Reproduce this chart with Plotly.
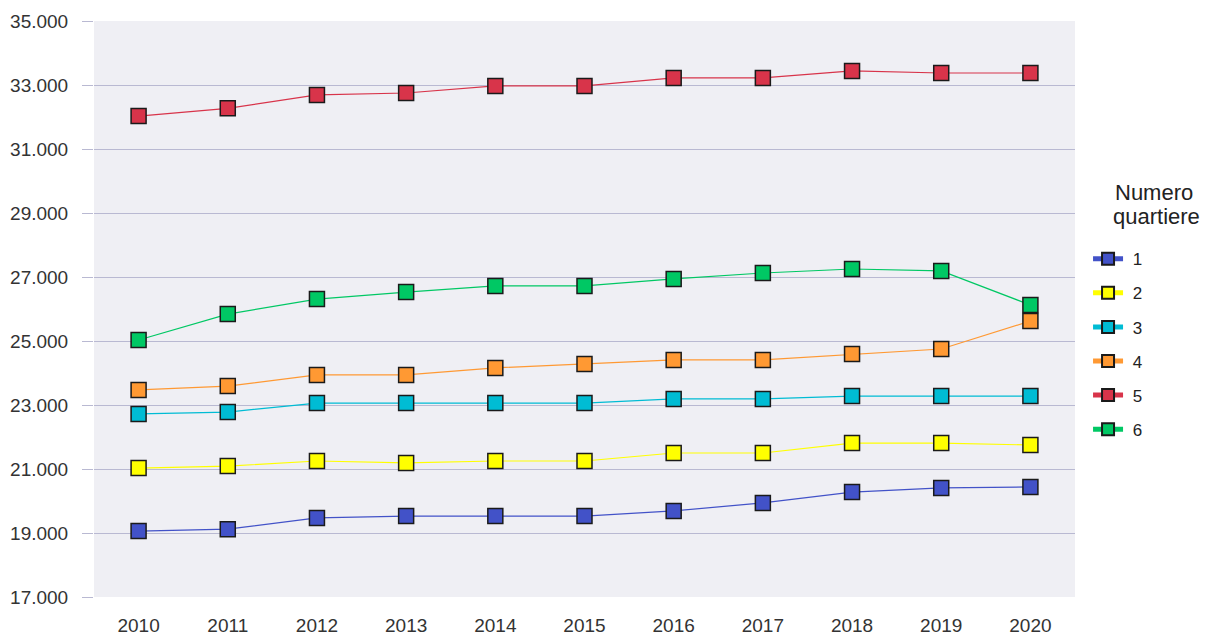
import plotly.graph_objects as go

years = ["2010", "2011", "2012", "2013", "2014", "2015", "2016", "2017", "2018", "2019", "2020"]
q1 = [19060, 19120, 19470, 19530, 19530, 19530, 19690, 19940, 20280, 20410, 20440]
q2 = [21030, 21090, 21250, 21190, 21250, 21250, 21500, 21500, 21810, 21810, 21750]
q3 = [22720, 22780, 23060, 23060, 23060, 23060, 23190, 23190, 23280, 23280, 23280]
q4 = [23470, 23590, 23940, 23940, 24160, 24280, 24410, 24410, 24590, 24750, 25625]
q5 = [32030, 32270, 32690, 32750, 32970, 32970, 33220, 33220, 33440, 33375, 33375]
q6 = [25030, 25840, 26310, 26530, 26720, 26720, 26940, 27125, 27250, 27190, 26125]
names = ["1", "2", "3", "4", "5", "6"]
colors = ["#4252c8", "#ffff00", "#00bcd4", "#ff9933", "#d8344a", "#00c864"]
legend_title = ["Numero", "quartiere"]

fig = go.Figure()
for name, vals, col in zip(names, [q1, q2, q3, q4, q5, q6], colors):
    fig.add_trace(go.Scatter(
        x=years, y=vals, name="\u00a0" + name, legendgroup=name, mode="lines+markers",
        line=dict(color=col, width=1.2),
        marker=dict(symbol="square", size=15, color=col, line=dict(color="#1a1a1a", width=1.5)),
    ))

grid = "#b9b9d2"
# page body has an 8px default margin; margins compensate so the plot area sits at 94..1075 x 21..597
fig.update_layout(
    width=1210, height=636,
    margin=dict(l=86, r=143, t=13, b=47, autoexpand=False),
    paper_bgcolor="white", plot_bgcolor="#efeff4",
    separators=",.",
    font=dict(family="Liberation Sans, Arial, sans-serif", size=19, color="#333333"),
    xaxis=dict(type="category", range=[-0.5, 10.5], showgrid=False, zeroline=False,
               showline=False, ticks="", ticklabelstandoff=15,
               tickfont=dict(size=19, color="#333333")),
    yaxis=dict(range=[17000, 35000], tick0=17000, dtick=2000, tickformat=",d", showgrid=True,
               gridcolor=grid, gridwidth=1.2, zeroline=False, showline=False,
               ticks="outside", ticklen=11, tickcolor=grid, tickwidth=1.2,
               ticklabelstandoff=10,
               tickfont=dict(size=19, color="#333333")),
    legend=dict(x=1.0133, y=0.439, xanchor="left", yanchor="middle",
                font=dict(size=17, color="#222222"), tracegroupgap=9,
                itemsizing="constant", bgcolor="rgba(0,0,0,0)"),
    showlegend=True,
    annotations=[
        dict(text=legend_title[0], xref="paper", yref="paper", x=1.0805, y=0.703,
             xanchor="center", yanchor="middle", showarrow=False,
             font=dict(size=22, color="#222222")),
        dict(text=legend_title[1], xref="paper", yref="paper", x=1.0831, y=0.661,
             xanchor="center", yanchor="middle", showarrow=False,
             font=dict(size=22, color="#222222")),
    ],
)

fig.write_html("out.html")
